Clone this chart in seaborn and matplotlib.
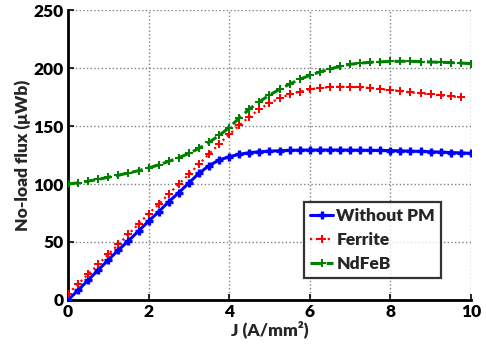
import numpy as np
import pandas as pd
import seaborn as sns
import matplotlib.pyplot as plt
from matplotlib.ticker import MultipleLocator

# Current density steps (A/mm^2)
j_steps = [i * 0.25 for i in range(41)]

flux_without_pm = [0, 8.4, 17.2, 25.9, 34.5, 43.1, 51.0, 59.5, 68.0, 76.1, 84.7,
                   92.6, 101.0, 109.2, 115.8, 120.7, 123.5, 125.6, 127.0, 127.8,
                   128.3, 128.7, 129.0, 129.2, 129.3, 129.3, 129.3, 129.3, 129.2,
                   129.1, 129.0, 128.9, 128.8, 128.6, 128.3, 128.1, 127.8, 127.5,
                   127.1, 126.8, 126.4]

flux_ferrite = [5.2, 13.8, 22.1, 30.7, 39.4, 48.0, 56.6, 65.5, 74.4, 82.5, 91.4,
                100.0, 108.3, 117.0, 125.9, 134.5, 142.8, 150.5, 158.0, 164.4,
                170.0, 173.8, 177.3, 179.6, 181.6, 182.8, 183.6, 183.9, 183.9,
                183.3, 182.8, 181.9, 181.0, 180.2, 179.0, 178.2, 177.3, 176.4,
                175.6, 174.7]

flux_ndfeb = [100.0, 101.0, 102.5, 104.0, 105.8, 107.6, 109.5, 111.5, 113.8,
              116.5, 119.5, 122.7, 126.4, 130.7, 135.9, 142.0, 148.5, 157.0,
              164.5, 171.0, 176.7, 181.6, 186.2, 190.2, 193.7, 196.6, 199.1,
              201.5, 203.2, 204.2, 204.9, 205.3, 205.7, 205.8, 205.8, 205.5,
              205.2, 204.9, 204.7, 204.3, 203.8]

series_names = ["Without PM", "Ferrite", "NdFeB"]

df = pd.concat([
    pd.DataFrame({"J": j_steps, "flux": flux_without_pm, "case": series_names[0]}),
    pd.DataFrame({"J": j_steps[:len(flux_ferrite)], "flux": flux_ferrite, "case": series_names[1]}),
    pd.DataFrame({"J": j_steps, "flux": flux_ndfeb, "case": series_names[2]}),
])

sns.set_theme(style="white")
plt.rcParams["font.family"] = ["Lato", "DejaVu Sans"]
plt.rcParams["font.weight"] = "bold"

fig = plt.figure(figsize=(4.86, 3.46), dpi=100)
ax = fig.add_axes([0.14, 0.133, 0.829, 0.838])

styles = {
    "Without PM": dict(color="#0000ff", ls="-", lw=2.2, marker="+", ms=5.5, mew=2.4),
    "Ferrite": dict(color="#ff0000", ls=":", lw=1.6, marker="P", ms=6, mew=0),
    "NdFeB": dict(color="#008000", ls="--", lw=2.2, marker="P", ms=5.5, mew=0),
}

for name in series_names:
    sub = df[df["case"] == name]
    st = styles[name]
    sns.lineplot(data=sub, x="J", y="flux", ax=ax, color=st["color"],
                 linestyle=st["ls"], linewidth=st["lw"], marker=st["marker"],
                 markersize=st["ms"], markeredgewidth=st["mew"],
                 markeredgecolor=st["color"], label=name, zorder=3)

ax.set_xlim(0, 10)
ax.set_ylim(0, 250)
ax.xaxis.set_major_locator(MultipleLocator(2))
ax.yaxis.set_major_locator(MultipleLocator(50))
ax.grid(True, linestyle=":", color="#808080", linewidth=1.0)

for side in ["top", "right"]:
    ax.spines[side].set_visible(False)
for side in ["left", "bottom"]:
    ax.spines[side].set_linewidth(2.0)
    ax.spines[side].set_color("black")

ax.tick_params(axis="both", direction="in", length=4, width=1.2,
               labelsize=12.5, colors="black", pad=3, left=True, bottom=True)
for lbl in ax.get_xticklabels() + ax.get_yticklabels():
    lbl.set_fontweight("heavy")

ax.set_xlabel("J (A/mm\u00b2)", fontsize=12.5, fontweight="heavy", labelpad=0)
ax.set_ylabel("No-load flux (\u03bcWb)", fontsize=12.5, fontweight="heavy", labelpad=2)

leg = ax.legend(loc="lower right", bbox_to_anchor=(0.926, 0.076), borderaxespad=0,
                frameon=True, fancybox=False, edgecolor="black", handlelength=1.3,
                handletextpad=0.2, borderpad=0.35, labelspacing=0.45,
                prop={"weight": "heavy", "size": 12.5})
leg.get_frame().set_linewidth(1.6)

fig.savefig("out.png", dpi=100)
